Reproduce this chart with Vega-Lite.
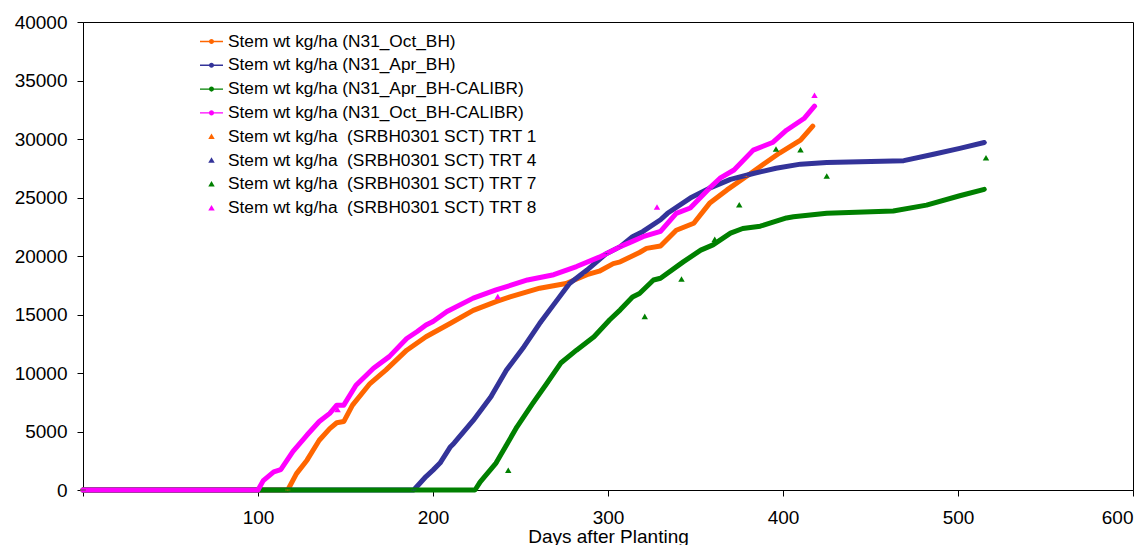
{
  "$schema": "https://vega.github.io/schema/vega-lite/v6.json",
  "width": 1050,
  "height": 468,
  "autosize": "none",
  "padding": {"left": 83, "top": 22, "right": 14, "bottom": 55},
  "background": "white",
  "config": {
    "font": "Liberation Sans",
    "view": {"stroke": "black", "strokeWidth": 1},
    "axis": {
      "grid": false,
      "domainColor": "black",
      "tickColor": "black",
      "labelColor": "black",
      "titleColor": "black",
      "labelFont": "Liberation Sans",
      "titleFont": "Liberation Sans",
      "labelFontSize": 19,
      "titleFontSize": 19,
      "titleFontWeight": "normal",
      "tickSize": 6
    }
  },
  "datasets": {
    "sim": [
      {"series": "Stem wt kg/ha (N31_Oct_BH)", "day": 0, "stem": 0},
      {"series": "Stem wt kg/ha (N31_Oct_BH)", "day": 117, "stem": 0},
      {"series": "Stem wt kg/ha (N31_Oct_BH)", "day": 122, "stem": 1400},
      {"series": "Stem wt kg/ha (N31_Oct_BH)", "day": 128, "stem": 2550},
      {"series": "Stem wt kg/ha (N31_Oct_BH)", "day": 135, "stem": 4250},
      {"series": "Stem wt kg/ha (N31_Oct_BH)", "day": 141, "stem": 5250},
      {"series": "Stem wt kg/ha (N31_Oct_BH)", "day": 145, "stem": 5750},
      {"series": "Stem wt kg/ha (N31_Oct_BH)", "day": 149, "stem": 5850},
      {"series": "Stem wt kg/ha (N31_Oct_BH)", "day": 154, "stem": 7250},
      {"series": "Stem wt kg/ha (N31_Oct_BH)", "day": 164, "stem": 9100},
      {"series": "Stem wt kg/ha (N31_Oct_BH)", "day": 173, "stem": 10250},
      {"series": "Stem wt kg/ha (N31_Oct_BH)", "day": 185, "stem": 11950},
      {"series": "Stem wt kg/ha (N31_Oct_BH)", "day": 196, "stem": 13100},
      {"series": "Stem wt kg/ha (N31_Oct_BH)", "day": 210, "stem": 14250},
      {"series": "Stem wt kg/ha (N31_Oct_BH)", "day": 223, "stem": 15350},
      {"series": "Stem wt kg/ha (N31_Oct_BH)", "day": 236, "stem": 16100},
      {"series": "Stem wt kg/ha (N31_Oct_BH)", "day": 244, "stem": 16500},
      {"series": "Stem wt kg/ha (N31_Oct_BH)", "day": 261, "stem": 17250},
      {"series": "Stem wt kg/ha (N31_Oct_BH)", "day": 276, "stem": 17650},
      {"series": "Stem wt kg/ha (N31_Oct_BH)", "day": 288, "stem": 18400},
      {"series": "Stem wt kg/ha (N31_Oct_BH)", "day": 295, "stem": 18700},
      {"series": "Stem wt kg/ha (N31_Oct_BH)", "day": 303, "stem": 19350},
      {"series": "Stem wt kg/ha (N31_Oct_BH)", "day": 307, "stem": 19500},
      {"series": "Stem wt kg/ha (N31_Oct_BH)", "day": 318, "stem": 20300},
      {"series": "Stem wt kg/ha (N31_Oct_BH)", "day": 322, "stem": 20650},
      {"series": "Stem wt kg/ha (N31_Oct_BH)", "day": 330, "stem": 20850},
      {"series": "Stem wt kg/ha (N31_Oct_BH)", "day": 339, "stem": 22200},
      {"series": "Stem wt kg/ha (N31_Oct_BH)", "day": 349, "stem": 22800},
      {"series": "Stem wt kg/ha (N31_Oct_BH)", "day": 358, "stem": 24500},
      {"series": "Stem wt kg/ha (N31_Oct_BH)", "day": 368, "stem": 25650},
      {"series": "Stem wt kg/ha (N31_Oct_BH)", "day": 379, "stem": 26800},
      {"series": "Stem wt kg/ha (N31_Oct_BH)", "day": 387, "stem": 27650},
      {"series": "Stem wt kg/ha (N31_Oct_BH)", "day": 398, "stem": 28800},
      {"series": "Stem wt kg/ha (N31_Oct_BH)", "day": 410, "stem": 29900},
      {"series": "Stem wt kg/ha (N31_Oct_BH)", "day": 417, "stem": 31100},
      {"series": "Stem wt kg/ha (N31_Apr_BH)", "day": 0, "stem": 0},
      {"series": "Stem wt kg/ha (N31_Apr_BH)", "day": 189, "stem": 0},
      {"series": "Stem wt kg/ha (N31_Apr_BH)", "day": 196, "stem": 1150},
      {"series": "Stem wt kg/ha (N31_Apr_BH)", "day": 200, "stem": 1700},
      {"series": "Stem wt kg/ha (N31_Apr_BH)", "day": 204, "stem": 2300},
      {"series": "Stem wt kg/ha (N31_Apr_BH)", "day": 210, "stem": 3700},
      {"series": "Stem wt kg/ha (N31_Apr_BH)", "day": 212, "stem": 4000},
      {"series": "Stem wt kg/ha (N31_Apr_BH)", "day": 223, "stem": 5950},
      {"series": "Stem wt kg/ha (N31_Apr_BH)", "day": 233, "stem": 7950},
      {"series": "Stem wt kg/ha (N31_Apr_BH)", "day": 242, "stem": 10250},
      {"series": "Stem wt kg/ha (N31_Apr_BH)", "day": 252, "stem": 12250},
      {"series": "Stem wt kg/ha (N31_Apr_BH)", "day": 261, "stem": 14250},
      {"series": "Stem wt kg/ha (N31_Apr_BH)", "day": 271, "stem": 16250},
      {"series": "Stem wt kg/ha (N31_Apr_BH)", "day": 278, "stem": 17650},
      {"series": "Stem wt kg/ha (N31_Apr_BH)", "day": 288, "stem": 18800},
      {"series": "Stem wt kg/ha (N31_Apr_BH)", "day": 299, "stem": 20200},
      {"series": "Stem wt kg/ha (N31_Apr_BH)", "day": 307, "stem": 20800},
      {"series": "Stem wt kg/ha (N31_Apr_BH)", "day": 314, "stem": 21650},
      {"series": "Stem wt kg/ha (N31_Apr_BH)", "day": 320, "stem": 22100},
      {"series": "Stem wt kg/ha (N31_Apr_BH)", "day": 330, "stem": 23100},
      {"series": "Stem wt kg/ha (N31_Apr_BH)", "day": 334, "stem": 23650},
      {"series": "Stem wt kg/ha (N31_Apr_BH)", "day": 347, "stem": 24950},
      {"series": "Stem wt kg/ha (N31_Apr_BH)", "day": 358, "stem": 25800},
      {"series": "Stem wt kg/ha (N31_Apr_BH)", "day": 370, "stem": 26550},
      {"series": "Stem wt kg/ha (N31_Apr_BH)", "day": 383, "stem": 27050},
      {"series": "Stem wt kg/ha (N31_Apr_BH)", "day": 396, "stem": 27500},
      {"series": "Stem wt kg/ha (N31_Apr_BH)", "day": 410, "stem": 27850},
      {"series": "Stem wt kg/ha (N31_Apr_BH)", "day": 425, "stem": 28000},
      {"series": "Stem wt kg/ha (N31_Apr_BH)", "day": 444, "stem": 28050},
      {"series": "Stem wt kg/ha (N31_Apr_BH)", "day": 469, "stem": 28150},
      {"series": "Stem wt kg/ha (N31_Apr_BH)", "day": 486, "stem": 28700},
      {"series": "Stem wt kg/ha (N31_Apr_BH)", "day": 501, "stem": 29200},
      {"series": "Stem wt kg/ha (N31_Apr_BH)", "day": 515, "stem": 29700},
      {"series": "Stem wt kg/ha (N31_Apr_BH-CALIBR)", "day": 0, "stem": 0},
      {"series": "Stem wt kg/ha (N31_Apr_BH-CALIBR)", "day": 224, "stem": 0},
      {"series": "Stem wt kg/ha (N31_Apr_BH-CALIBR)", "day": 227, "stem": 700},
      {"series": "Stem wt kg/ha (N31_Apr_BH-CALIBR)", "day": 236, "stem": 2300},
      {"series": "Stem wt kg/ha (N31_Apr_BH-CALIBR)", "day": 242, "stem": 3850},
      {"series": "Stem wt kg/ha (N31_Apr_BH-CALIBR)", "day": 248, "stem": 5400},
      {"series": "Stem wt kg/ha (N31_Apr_BH-CALIBR)", "day": 257, "stem": 7400},
      {"series": "Stem wt kg/ha (N31_Apr_BH-CALIBR)", "day": 265, "stem": 9100},
      {"series": "Stem wt kg/ha (N31_Apr_BH-CALIBR)", "day": 273, "stem": 10850},
      {"series": "Stem wt kg/ha (N31_Apr_BH-CALIBR)", "day": 282, "stem": 11950},
      {"series": "Stem wt kg/ha (N31_Apr_BH-CALIBR)", "day": 292, "stem": 13100},
      {"series": "Stem wt kg/ha (N31_Apr_BH-CALIBR)", "day": 301, "stem": 14550},
      {"series": "Stem wt kg/ha (N31_Apr_BH-CALIBR)", "day": 307, "stem": 15400},
      {"series": "Stem wt kg/ha (N31_Apr_BH-CALIBR)", "day": 314, "stem": 16500},
      {"series": "Stem wt kg/ha (N31_Apr_BH-CALIBR)", "day": 318, "stem": 16800},
      {"series": "Stem wt kg/ha (N31_Apr_BH-CALIBR)", "day": 326, "stem": 17950},
      {"series": "Stem wt kg/ha (N31_Apr_BH-CALIBR)", "day": 330, "stem": 18100},
      {"series": "Stem wt kg/ha (N31_Apr_BH-CALIBR)", "day": 343, "stem": 19500},
      {"series": "Stem wt kg/ha (N31_Apr_BH-CALIBR)", "day": 353, "stem": 20500},
      {"series": "Stem wt kg/ha (N31_Apr_BH-CALIBR)", "day": 360, "stem": 20950},
      {"series": "Stem wt kg/ha (N31_Apr_BH-CALIBR)", "day": 370, "stem": 21950},
      {"series": "Stem wt kg/ha (N31_Apr_BH-CALIBR)", "day": 377, "stem": 22350},
      {"series": "Stem wt kg/ha (N31_Apr_BH-CALIBR)", "day": 387, "stem": 22550},
      {"series": "Stem wt kg/ha (N31_Apr_BH-CALIBR)", "day": 402, "stem": 23250},
      {"series": "Stem wt kg/ha (N31_Apr_BH-CALIBR)", "day": 406, "stem": 23350},
      {"series": "Stem wt kg/ha (N31_Apr_BH-CALIBR)", "day": 425, "stem": 23650},
      {"series": "Stem wt kg/ha (N31_Apr_BH-CALIBR)", "day": 463, "stem": 23850},
      {"series": "Stem wt kg/ha (N31_Apr_BH-CALIBR)", "day": 482, "stem": 24350},
      {"series": "Stem wt kg/ha (N31_Apr_BH-CALIBR)", "day": 501, "stem": 25150},
      {"series": "Stem wt kg/ha (N31_Apr_BH-CALIBR)", "day": 515, "stem": 25700},
      {"series": "Stem wt kg/ha (N31_Oct_BH-CALIBR)", "day": 0, "stem": 0},
      {"series": "Stem wt kg/ha (N31_Oct_BH-CALIBR)", "day": 100, "stem": 0},
      {"series": "Stem wt kg/ha (N31_Oct_BH-CALIBR)", "day": 103, "stem": 800},
      {"series": "Stem wt kg/ha (N31_Oct_BH-CALIBR)", "day": 109, "stem": 1550},
      {"series": "Stem wt kg/ha (N31_Oct_BH-CALIBR)", "day": 113, "stem": 1750},
      {"series": "Stem wt kg/ha (N31_Oct_BH-CALIBR)", "day": 120, "stem": 3300},
      {"series": "Stem wt kg/ha (N31_Oct_BH-CALIBR)", "day": 128, "stem": 4700},
      {"series": "Stem wt kg/ha (N31_Oct_BH-CALIBR)", "day": 135, "stem": 5850},
      {"series": "Stem wt kg/ha (N31_Oct_BH-CALIBR)", "day": 141, "stem": 6550},
      {"series": "Stem wt kg/ha (N31_Oct_BH-CALIBR)", "day": 145, "stem": 7250},
      {"series": "Stem wt kg/ha (N31_Oct_BH-CALIBR)", "day": 149, "stem": 7250},
      {"series": "Stem wt kg/ha (N31_Oct_BH-CALIBR)", "day": 156, "stem": 8950},
      {"series": "Stem wt kg/ha (N31_Oct_BH-CALIBR)", "day": 166, "stem": 10400},
      {"series": "Stem wt kg/ha (N31_Oct_BH-CALIBR)", "day": 175, "stem": 11400},
      {"series": "Stem wt kg/ha (N31_Oct_BH-CALIBR)", "day": 185, "stem": 12950},
      {"series": "Stem wt kg/ha (N31_Oct_BH-CALIBR)", "day": 191, "stem": 13550},
      {"series": "Stem wt kg/ha (N31_Oct_BH-CALIBR)", "day": 196, "stem": 14100},
      {"series": "Stem wt kg/ha (N31_Oct_BH-CALIBR)", "day": 200, "stem": 14400},
      {"series": "Stem wt kg/ha (N31_Oct_BH-CALIBR)", "day": 208, "stem": 15250},
      {"series": "Stem wt kg/ha (N31_Oct_BH-CALIBR)", "day": 223, "stem": 16400},
      {"series": "Stem wt kg/ha (N31_Oct_BH-CALIBR)", "day": 236, "stem": 17100},
      {"series": "Stem wt kg/ha (N31_Oct_BH-CALIBR)", "day": 254, "stem": 17950},
      {"series": "Stem wt kg/ha (N31_Oct_BH-CALIBR)", "day": 269, "stem": 18400},
      {"series": "Stem wt kg/ha (N31_Oct_BH-CALIBR)", "day": 282, "stem": 19100},
      {"series": "Stem wt kg/ha (N31_Oct_BH-CALIBR)", "day": 295, "stem": 19900},
      {"series": "Stem wt kg/ha (N31_Oct_BH-CALIBR)", "day": 307, "stem": 20800},
      {"series": "Stem wt kg/ha (N31_Oct_BH-CALIBR)", "day": 314, "stem": 21250},
      {"series": "Stem wt kg/ha (N31_Oct_BH-CALIBR)", "day": 320, "stem": 21650},
      {"series": "Stem wt kg/ha (N31_Oct_BH-CALIBR)", "day": 330, "stem": 22100},
      {"series": "Stem wt kg/ha (N31_Oct_BH-CALIBR)", "day": 339, "stem": 23650},
      {"series": "Stem wt kg/ha (N31_Oct_BH-CALIBR)", "day": 347, "stem": 24100},
      {"series": "Stem wt kg/ha (N31_Oct_BH-CALIBR)", "day": 358, "stem": 25800},
      {"series": "Stem wt kg/ha (N31_Oct_BH-CALIBR)", "day": 364, "stem": 26650},
      {"series": "Stem wt kg/ha (N31_Oct_BH-CALIBR)", "day": 372, "stem": 27350},
      {"series": "Stem wt kg/ha (N31_Oct_BH-CALIBR)", "day": 383, "stem": 29050},
      {"series": "Stem wt kg/ha (N31_Oct_BH-CALIBR)", "day": 394, "stem": 29700},
      {"series": "Stem wt kg/ha (N31_Oct_BH-CALIBR)", "day": 402, "stem": 30750},
      {"series": "Stem wt kg/ha (N31_Oct_BH-CALIBR)", "day": 412, "stem": 31750},
      {"series": "Stem wt kg/ha (N31_Oct_BH-CALIBR)", "day": 418, "stem": 32800}
    ],
    "obs": [
      {"series": "Stem wt kg/ha \u00a0(SRBH0301 SCT) TRT 8", "day": 145.5, "stem": 6850},
      {"series": "Stem wt kg/ha \u00a0(SRBH0301 SCT) TRT 8", "day": 237, "stem": 16500},
      {"series": "Stem wt kg/ha \u00a0(SRBH0301 SCT) TRT 8", "day": 328, "stem": 24150},
      {"series": "Stem wt kg/ha \u00a0(SRBH0301 SCT) TRT 8", "day": 418, "stem": 33700},
      {"series": "Stem wt kg/ha \u00a0(SRBH0301 SCT) TRT 7", "day": 243, "stem": 1650},
      {"series": "Stem wt kg/ha \u00a0(SRBH0301 SCT) TRT 7", "day": 321, "stem": 14800},
      {"series": "Stem wt kg/ha \u00a0(SRBH0301 SCT) TRT 7", "day": 342, "stem": 18000},
      {"series": "Stem wt kg/ha \u00a0(SRBH0301 SCT) TRT 7", "day": 361, "stem": 21400},
      {"series": "Stem wt kg/ha \u00a0(SRBH0301 SCT) TRT 7", "day": 375, "stem": 24350},
      {"series": "Stem wt kg/ha \u00a0(SRBH0301 SCT) TRT 7", "day": 396, "stem": 29100},
      {"series": "Stem wt kg/ha \u00a0(SRBH0301 SCT) TRT 7", "day": 410, "stem": 29050},
      {"series": "Stem wt kg/ha \u00a0(SRBH0301 SCT) TRT 7", "day": 425, "stem": 26800},
      {"series": "Stem wt kg/ha \u00a0(SRBH0301 SCT) TRT 7", "day": 516, "stem": 28350}
    ]
  },
  "layer": [
    {
      "data": {"name": "sim"},
      "mark": {"type": "line", "strokeWidth": 5, "strokeCap": "round", "strokeJoin": "round"},
      "encoding": {
        "x": {
          "field": "day",
          "type": "quantitative",
          "scale": {"domain": [0, 600], "nice": false},
          "axis": {
            "title": "Days after Planting",
            "values": [0, 100, 200, 300, 400, 500, 600],
            "labelExpr": "datum.value == 0 ? '' : datum.label",
            "labelPadding": 12,
            "titlePadding": 0
          }
        },
        "y": {
          "field": "stem",
          "type": "quantitative",
          "scale": {"domain": [0, 40000], "nice": false},
          "axis": {
            "title": null,
            "values": [0, 5000, 10000, 15000, 20000, 25000, 30000, 35000, 40000],
            "format": "d",
            "labelPadding": 10
          }
        },
        "color": {"field": "series", "type": "nominal", "sort": null}
      }
    },
    {
      "data": {"name": "obs"},
      "mark": {"type": "point", "filled": true, "opacity": 1, "size": 529},
      "encoding": {
        "x": {"field": "day", "type": "quantitative"},
        "y": {"field": "stem", "type": "quantitative"},
        "color": {"field": "series", "type": "nominal", "sort": null},
        "shape": {"field": "series", "type": "nominal", "sort": null}
      }
    }
  ],
  "resolve": {"scale": {"color": "shared", "shape": "shared"}},
  "encoding": {
    "color": {
      "field": "series",
      "type": "nominal",
      "scale": {
        "domain": [
          "Stem wt kg/ha (N31_Oct_BH)",
          "Stem wt kg/ha (N31_Apr_BH)",
          "Stem wt kg/ha (N31_Apr_BH-CALIBR)",
          "Stem wt kg/ha (N31_Oct_BH-CALIBR)",
          "Stem wt kg/ha \u00a0(SRBH0301 SCT) TRT 1",
          "Stem wt kg/ha \u00a0(SRBH0301 SCT) TRT 4",
          "Stem wt kg/ha \u00a0(SRBH0301 SCT) TRT 7",
          "Stem wt kg/ha \u00a0(SRBH0301 SCT) TRT 8"
        ],
        "range": ["#FF6600", "#333399", "#008000", "#FF00FF", "#FF6600", "#333399", "#008000", "#FF00FF"]
      },
      "legend": {
        "title": null,
        "orient": "none",
        "legendX": 117,
        "legendY": 8,
        "padding": 0,
        "rowPadding": 3.8,
        "symbolSize": 529,
        "symbolStrokeWidth": 0,
        "labelOffset": 5,
        "labelFont": "Liberation Sans",
        "labelFontSize": 17.3,
        "labelColor": "black",
        "labelLimit": 0,
        "encode": {
          "symbols": {
            "update": {
              "fill": {"scale": "color", "field": "value"},
              "stroke": {"value": "transparent"},
              "opacity": {"value": 1}
            }
          }
        }
      }
    },
    "shape": {
      "field": "series",
      "type": "nominal",
      "scale": {
        "domain": [
          "Stem wt kg/ha (N31_Oct_BH)",
          "Stem wt kg/ha (N31_Apr_BH)",
          "Stem wt kg/ha (N31_Apr_BH-CALIBR)",
          "Stem wt kg/ha (N31_Oct_BH-CALIBR)",
          "Stem wt kg/ha \u00a0(SRBH0301 SCT) TRT 1",
          "Stem wt kg/ha \u00a0(SRBH0301 SCT) TRT 4",
          "Stem wt kg/ha \u00a0(SRBH0301 SCT) TRT 7",
          "Stem wt kg/ha \u00a0(SRBH0301 SCT) TRT 8"
        ],
        "range": [
          "M-1,-0.06L1,-0.06L1,0.06L-1,0.06Z M-0.22,0A0.22,0.22 0 1,1 0.22,0A0.22,0.22 0 1,1 -0.22,0Z",
          "M-1,-0.06L1,-0.06L1,0.06L-1,0.06Z M-0.22,0A0.22,0.22 0 1,1 0.22,0A0.22,0.22 0 1,1 -0.22,0Z",
          "M-1,-0.06L1,-0.06L1,0.06L-1,0.06Z M-0.22,0A0.22,0.22 0 1,1 0.22,0A0.22,0.22 0 1,1 -0.22,0Z",
          "M-1,-0.06L1,-0.06L1,0.06L-1,0.06Z M-0.22,0A0.22,0.22 0 1,1 0.22,0A0.22,0.22 0 1,1 -0.22,0Z",
          "M0,-0.28L0.28,0.2L-0.28,0.2Z",
          "M0,-0.28L0.28,0.2L-0.28,0.2Z",
          "M0,-0.28L0.28,0.2L-0.28,0.2Z",
          "M0,-0.28L0.28,0.2L-0.28,0.2Z"
        ]
      },
      "legend": {
        "title": null,
        "orient": "none",
        "legendX": 117,
        "legendY": 8,
        "padding": 0,
        "rowPadding": 3.8,
        "symbolSize": 529,
        "symbolStrokeWidth": 0,
        "labelOffset": 5,
        "labelFont": "Liberation Sans",
        "labelFontSize": 17.3,
        "labelColor": "black",
        "labelLimit": 0
      }
    }
  }
}
